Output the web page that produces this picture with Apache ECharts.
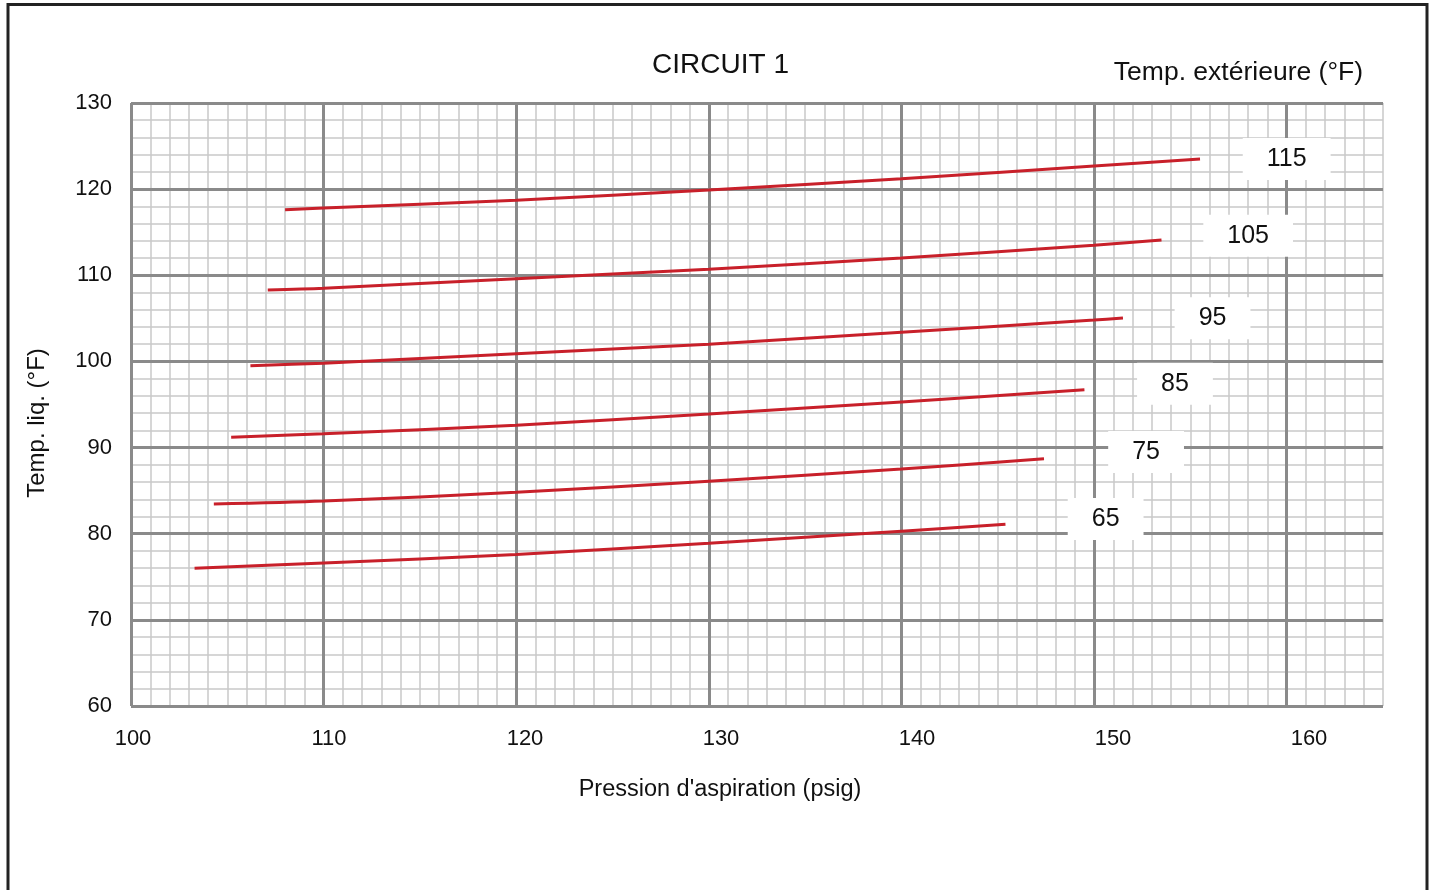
<!DOCTYPE html>
<html>
<head>
<meta charset="utf-8">
<script src="https://cdn.jsdelivr.net/npm/echarts@6/dist/echarts.min.js"></script>
<style>
html,body{margin:0;padding:0;background:#fff;}
#chart{width:1432px;height:890px;}
</style>
</head>
<body>
<div id="chart"></div>
<script>
// ---- data ----
const press115 = [108.0, 110, 120, 130, 140, 150, 155.5];
const liq115   = [117.6, 117.8, 118.7, 119.9, 121.2, 122.7, 123.5];
const press105 = [107.1, 110, 120, 130, 140, 150, 153.5];
const liq105   = [108.3, 108.5, 109.6, 110.7, 112.0, 113.5, 114.1];
const press95  = [106.2, 110, 120, 130, 140, 150, 151.5];
const liq95    = [99.5, 99.8, 100.9, 102.0, 103.4, 104.8, 105.05];
const press85  = [105.2, 110, 120, 130, 140, 149.5];
const liq85    = [91.2, 91.6, 92.6, 93.9, 95.3, 96.7];
const press75  = [104.3, 110, 120, 130, 140, 147.4];
const liq75    = [83.45, 83.8, 84.8, 86.1, 87.5, 88.7];
const press65  = [103.3, 110, 120, 130, 140, 145.4];
const liq65    = [76.0, 76.6, 77.6, 78.9, 80.3, 81.1];

const extTemps = ['115', '105', '95', '85', '75', '65'];
const labelPress = [160.0, 158.0, 156.15, 154.2, 152.7, 150.6];
const labelLiq   = [123.5, 114.6, 105.0, 97.4, 89.5, 81.7];

const curves = [
  [press115, liq115], [press105, liq105], [press95, liq95],
  [press85, liq85], [press75, liq75], [press65, liq65]
];

const FONT = '"Liberation Sans", Arial, sans-serif';
const MINOR = '#c9c9c9', MAJOR = '#8a8a8a', RED = '#c8202a';

const lineSeries = curves.map((c, i) => ({
  name: extTemps[i],
  type: 'line',
  xAxisIndex: 0, yAxisIndex: 1,
  data: c[0].map((p, j) => [p, c[1][j]]),
  smooth: 0.3,
  showSymbol: false,
  lineStyle: {color: RED, width: 3},
  emphasis: {disabled: true},
  z: 5
}));

const labelSeries = {
  type: 'scatter',
  xAxisIndex: 0, yAxisIndex: 1,
  symbolSize: 1,
  itemStyle: {color: '#ffffff', opacity: 1},
  emphasis: {disabled: true},
  data: extTemps.map((t, i) => [labelPress[i], labelLiq[i], t]),
  label: {
    show: true, position: 'inside',
    formatter: p => p.value[2],
    backgroundColor: '#ffffff',
    padding: [9, 24, 8, 24],
    fontSize: 25, fontFamily: FONT, color: '#111111', opacity: 1
  },
  z: 4
};

const chart = echarts.init(document.getElementById('chart'));
chart.setOption({
  animation: false,
  backgroundColor: '#fff',
  graphic: [
    {type: 'rect', shape: {x: 8, y: 4.5, width: 1419, height: 950},
     style: {fill: 'none', stroke: '#222', lineWidth: 3}, silent: true},
    {type: 'text', x: 720.5, y: 65,
     style: {text: 'CIRCUIT 1', fontSize: 28, fontFamily: FONT, fill: '#111',
             textAlign: 'center', textVerticalAlign: 'middle'}},
    {type: 'text', x: 1363, y: 73,
     style: {text: 'Temp. extérieure (°F)', fontSize: 26.5, fontFamily: FONT, fill: '#111',
             textAlign: 'right', textVerticalAlign: 'middle'}},
    {type: 'text', x: 720, y: 790,
     style: {text: "Pression d'aspiration (psig)", fontSize: 23.5, fontFamily: FONT, fill: '#111',
             textAlign: 'center', textVerticalAlign: 'middle'}},
    {type: 'text', x: 37, y: 423, rotation: Math.PI / 2,
     style: {text: 'Temp. liq. (°F)', fontSize: 24, fontFamily: FONT, fill: '#111',
             textAlign: 'center', textVerticalAlign: 'middle'}}
  ],
  grid: [
    {left: 131, top: 103, width: 1252, height: 603},
    {left: 131, top: 103, width: 1252 * 60 / 65, height: 603},
    {left: 133, top: 103, width: 1274, height: 603}
  ],
  xAxis: [
    {type: 'value', gridIndex: 0, min: 100, max: 165, interval: 1,
     axisLine: {show: false}, axisTick: {show: false}, axisLabel: {show: false},
     splitLine: {show: true, lineStyle: {color: MINOR, width: 1.5}}, z: 0},
    {type: 'value', gridIndex: 1, min: 100, max: 160, interval: 10,
     axisLine: {show: false}, axisTick: {show: false}, axisLabel: {show: false},
     splitLine: {show: true, lineStyle: {color: MAJOR, width: 3}}, z: 2},
    {type: 'value', gridIndex: 2, min: 100, max: 165, interval: 10,
     axisLine: {show: false}, axisTick: {show: false}, splitLine: {show: false},
     axisLabel: {show: true, margin: 22, fontSize: 22, fontFamily: FONT, color: '#111',
                 formatter: v => (v % 10 === 0 ? String(v) : '')}}
  ],
  yAxis: [
    {type: 'value', gridIndex: 0, min: 60, max: 130, interval: 2,
     axisLine: {show: false}, axisTick: {show: false}, axisLabel: {show: false},
     splitLine: {show: true, lineStyle: {color: MINOR, width: 1.5}}, z: 0},
    {type: 'value', gridIndex: 0, min: 60, max: 130, interval: 10, position: 'left',
     axisLine: {show: false}, axisTick: {show: false},
     axisLabel: {show: true, margin: 19, fontSize: 22, fontFamily: FONT, color: '#111'},
     splitLine: {show: true, lineStyle: {color: MAJOR, width: 3}}, z: 2},
    {type: 'value', gridIndex: 1, min: 60, max: 130, show: false, splitLine: {show: false}},
    {type: 'value', gridIndex: 2, min: 60, max: 130, show: false, splitLine: {show: false}}
  ],
  series: [...lineSeries, labelSeries]
});
</script>
</body>
</html>
